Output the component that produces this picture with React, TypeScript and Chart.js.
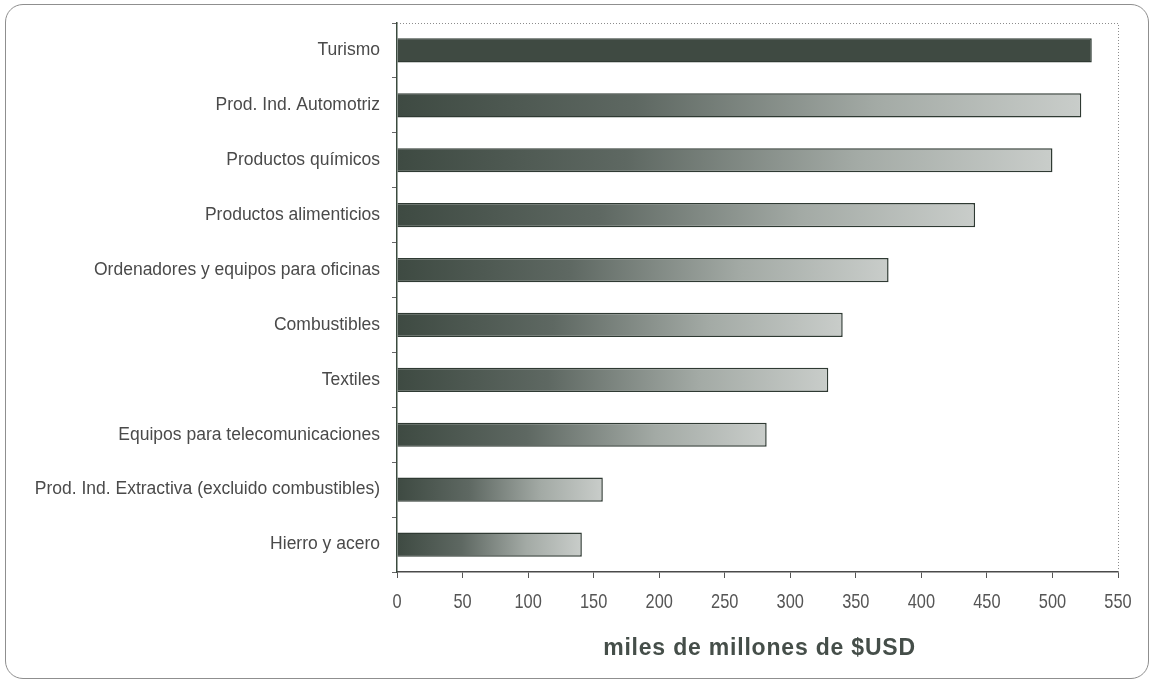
import React, { useEffect, useRef } from "react";
import { Chart, registerables } from "chart.js";

Chart.register(...registerables);

const categories: string[] = [
  "Turismo",
  "Prod. Ind. Automotriz",
  "Productos químicos",
  "Productos alimenticios",
  "Ordenadores y equipos para oficinas",
  "Combustibles",
  "Textiles",
  "Equipos para telecomunicaciones",
  "Prod. Ind. Extractiva (excluido combustibles)",
  "Hierro y acero",
];

const values: number[] = [530, 522, 500, 441, 375, 340, 329, 282, 157, 141];

const xTicks: number[] = [0, 50, 100, 150, 200, 250, 300, 350, 400, 450, 500, 550];

const axisTitle = "miles de millones de $USD";

const SANS = "'Liberation Sans', Arial, sans-serif";

const plotBorderPlugin = {
  id: "plotBorder",
  afterDraw(chart: any) {
    const { ctx, chartArea } = chart;
    ctx.save();
    ctx.strokeStyle = "#8c8c8c";
    ctx.lineWidth = 1;
    ctx.setLineDash([1, 2]);
    ctx.beginPath();
    ctx.moveTo(chartArea.left, chartArea.top + 0.5);
    ctx.lineTo(chartArea.right + 0.5, chartArea.top + 0.5);
    ctx.lineTo(chartArea.right + 0.5, chartArea.bottom);
    ctx.stroke();
    ctx.restore();
  },
};

// Draws the (narrow) x tick labels and the bold axis title as real canvas text
const xTextPlugin = {
  id: "xText",
  afterDraw(chart: any) {
    const { ctx, chartArea } = chart;
    const xs = chart.scales.x;
    ctx.save();
    ctx.fillStyle = "#555555";
    ctx.font = `21px ${SANS}`;
    ctx.textAlign = "center";
    ctx.textBaseline = "middle";
    const sx = 0.78;
    xTicks.forEach((v) => {
      const px = xs.getPixelForValue(v);
      ctx.save();
      ctx.translate(px, chartArea.bottom + 30);
      ctx.scale(sx, 1);
      ctx.fillText(String(v), 0, 0);
      ctx.restore();
    });
    ctx.fillStyle = "#454e49";
    ctx.font = `bold 23px ${SANS}`;
    try {
      (ctx as any).letterSpacing = "0.8px";
    } catch (e) {}
    ctx.fillText(axisTitle, (chartArea.left + chartArea.right) / 2 + 2, chartArea.bottom + 77);
    ctx.restore();
  },
};

export default function App() {
  const canvasRef = useRef<HTMLCanvasElement | null>(null);

  useEffect(() => {
    if (!canvasRef.current) return;
    const chart = new Chart(canvasRef.current, {
      type: "bar",
      data: {
        labels: categories,
        datasets: [
          {
            data: values,
            backgroundColor: (ctx: any) => {
              const chart = ctx.chart;
              const { chartArea } = chart;
              if (!chartArea) return "#555";
              if (ctx.dataIndex === 0) return "#3f4a42";
              const xs = chart.scales.x;
              const x0 = xs.getPixelForValue(0);
              const x1 = xs.getPixelForValue(values[ctx.dataIndex]);
              const g = chart.ctx.createLinearGradient(x0, 0, x1, 0);
              g.addColorStop(0, "#3e4a42");
              g.addColorStop(0.35, "#5e6862");
              g.addColorStop(0.7, "#a3aaa5");
              g.addColorStop(1, "#c9cdca");
              return g;
            },
            borderColor: "#2f3a33",
            borderWidth: 1.5,
            barPercentage: 0.55,
            categoryPercentage: 0.8,
          },
        ],
      },
      options: {
        indexAxis: "y",
        animation: false,
        responsive: false,
        maintainAspectRatio: false,
        layout: { padding: { left: 0, right: 36, top: 23, bottom: 0 } },
        plugins: {
          legend: { display: false },
          tooltip: { enabled: false },
        },
        scales: {
          x: {
            min: 0,
            max: 550,
            afterBuildTicks: (scale: any) => {
              scale.ticks = xTicks.map((v) => ({ value: v }));
            },
            afterFit: (scale: any) => {
              scale.height = 112;
            },
            grid: {
              drawOnChartArea: false,
              drawTicks: true,
              tickLength: 6,
              color: "#555",
            },
            border: { display: true, color: "#4a4a4a", width: 1.5 },
            ticks: { display: false },
            title: { display: false },
          },
          y: {
            afterFit: (scale: any) => {
              scale.width = 397;
            },
            grid: {
              drawOnChartArea: false,
              drawTicks: true,
              tickLength: 5,
              color: "#666",
              offset: true,
            },
            border: { display: true, color: "#3a4a3e", width: 1.5 },
            ticks: {
              color: "#4a4a4a",
              padding: 12,
              font: { family: SANS, size: 17.5 },
            },
          },
        },
      },
      plugins: [plotBorderPlugin, xTextPlugin],
    });
    return () => chart.destroy();
  }, []);

  return (
    <div
      style={{
        position: "fixed",
        left: 0,
        top: 0,
        width: 1154,
        height: 684,
        background: "#fff",
      }}
    >
      <div
        style={{
          position: "absolute",
          left: 5,
          top: 4,
          width: 1142,
          height: 673,
          border: "1.5px solid #8f8f8f",
          borderRadius: 18,
        }}
      />
      <canvas
        ref={canvasRef}
        width={1154}
        height={684}
        style={{ position: "absolute", left: 0, top: 0, width: 1154, height: 684 }}
      />
    </div>
  );
}
